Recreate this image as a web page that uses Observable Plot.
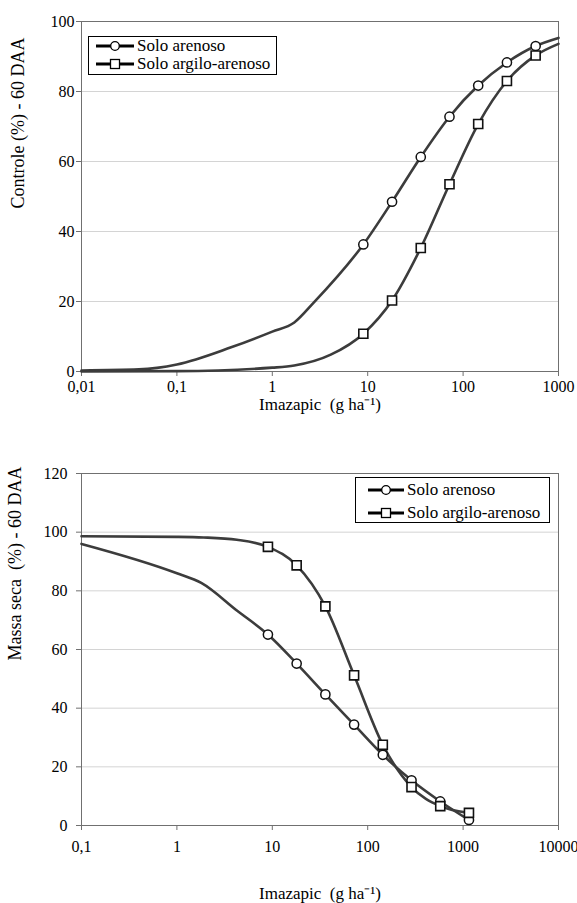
<!DOCTYPE html>
<html>
<head>
<meta charset="utf-8">
<script src="https://cdn.jsdelivr.net/npm/d3@7"></script>
<script src="https://cdn.jsdelivr.net/npm/@observablehq/plot@0.6"></script>
<style>
  html, body { margin: 0; padding: 0; background: #fff; }
  #wrap { position: relative; width: 577px; height: 903px; font-family: "Liberation Serif", "Times New Roman", serif; }
  #wrap svg { display: block; }
  .legend { position: absolute; background: #fff; border: 1px solid #000; box-sizing: border-box;
            font-family: "Liberation Serif", serif; font-size: 17px; color: #000; }
  .legend .row { position: absolute; left: 0; display: flex; align-items: center; white-space: nowrap; }
  .legend .row svg { display: block; }
</style>
</head>
<body>
<div id="wrap"></div>
<script>
// ---------- shared ----------
const seriesNames = ["Solo arenoso", "Solo argilo-arenoso"];
const doses = [9, 18, 36, 72, 144, 288, 576];
const dosesBottom = [9, 18, 36, 72, 144, 288, 576, 1152];

// ---------- top panel: Controle (%) ----------
const arenosoTop = [36.3, 48.5, 61.3, 72.8, 81.7, 88.3, 93.0];
const argiloTop  = [10.8, 20.3, 35.3, 53.5, 70.7, 83.0, 90.3];
// fitted curves
const curveArenosoTopX = [0.01, 0.04, 0.1, 0.37, 1, 1.7, 2.7, 9, 18, 36, 72, 144, 288, 576, 1000];
const curveArenosoTopY = [0.3, 0.6, 2.0, 6.9, 11.4, 14.0, 19.6, 36.3, 48.5, 61.3, 72.8, 81.7, 88.3, 93.0, 95.3];
const curveArgiloTopX  = [0.01, 0.1, 1, 1.7, 4.1, 9, 18, 36, 72, 144, 288, 576, 1000];
const curveArgiloTopY  = [0.0, 0.1, 1.1, 1.7, 4.8, 10.8, 20.3, 35.3, 53.5, 70.7, 83.0, 90.3, 93.6];
const xTicksTop  = [0.01, 0.1, 1, 10, 100, 1000];
const xLabelsTop = ["0,01", "0,1", "1", "10", "100", "1000"];
const yTicksTop  = [0, 20, 40, 60, 80, 100];
const yGridTop   = [20, 40, 60, 80];
const yTitleTop  = "Controle (%) - 60 DAA";

// ---------- bottom panel: Massa seca (%) ----------
const arenosoBottom = [65.1, 55.2, 44.7, 34.4, 24.1, 15.4, 8.2, 1.9];
const argiloBottom  = [95.0, 88.7, 74.7, 51.2, 27.5, 13.1, 6.6, 4.3];
const curveArenosoBotX = [0.1, 1, 1.8, 4.25, 9, 18, 36, 72, 144, 288, 576, 1152];
const curveArenosoBotY = [96.0, 86.0, 82.7, 73.3, 65.1, 55.2, 44.7, 34.4, 24.1, 15.4, 8.2, 1.9];
const curveArgiloBotX  = [0.1, 1, 1.9, 4.25, 9, 18, 36, 72, 144, 288, 576, 1152];
const curveArgiloBotY  = [98.6, 98.4, 98.2, 97.4, 95.0, 88.7, 74.7, 51.2, 27.5, 13.1, 6.6, 4.3];
const xTicksBottom  = [0.1, 1, 10, 100, 1000, 10000];
const xLabelsBottom = ["0,1", "1", "10", "100", "1000", "10000"];
const yTicksBottom  = [0, 20, 40, 60, 80, 100, 120];
const yGridBottom   = [20, 40, 60, 80, 100];
const yTitleBottom  = "Massa seca  (%) - 60 DAA";

const xTitle = "Imazapic  (g ha\u207B\u00B9)";

// ---------- helpers ----------
const zip = (xs, ys, s) => xs.map((x, i) => ({x, y: ys[i], s}));
const AXIS = "#707070";
const LINE = "#3c3c3c";

function panel(o) {
  const fmt = new Map(o.xTicks.map((v, i) => [v, o.xLabels[i]]));
  const curves = [...zip(o.cAx, o.cAy, seriesNames[0]), ...zip(o.cBx, o.cBy, seriesNames[1])];
  const ptsA = zip(o.doses, o.A, seriesNames[0]);
  const ptsB = zip(o.doses, o.B, seriesNames[1]);
  return Plot.plot({
    width: 577, height: o.height,
    marginTop: o.mt, marginBottom: o.mb, marginLeft: 81, marginRight: 19,
    style: {fontFamily: "Liberation Serif, serif", fontSize: "16px", color: "#000", background: "transparent"},
    x: {type: "log", domain: o.xDomain},
    y: {domain: o.yDomain},
    marks: [
      Plot.gridY(o.grid, {stroke: "#d4d4d4", strokeOpacity: 1}),
      Plot.frame({stroke: AXIS, strokeWidth: 1}),
      Plot.axisY(o.yTicks, {tickSize: 5, tickPadding: o.yPad, stroke: AXIS, label: null, tickFormat: d => String(d), fontSize: 16}),
      Plot.axisX(o.xTicks, {tickSize: 5, tickPadding: o.xPad, stroke: AXIS, label: null, tickFormat: d => fmt.get(d), fontSize: 16}),
      Plot.text([o.yTitle], {text: d => d, frameAnchor: "left", rotate: -90, dx: o.ytDx, dy: o.ytDy, fontSize: o.ytSize, fill: "#000"}),
      Plot.text([xTitle], {text: d => d, frameAnchor: "bottom", dy: o.xtDy, fontSize: 17, fill: "#000"}),
      Plot.line(curves, {x: "x", y: "y", z: "s", stroke: LINE, strokeWidth: 2.6, curve: "monotone-x"}),
      Plot.dot(ptsA, {x: "x", y: "y", r: 4.6, symbol: "circle", fill: "#fff", stroke: "#111", strokeWidth: 1.5}),
      Plot.dot(ptsB, {x: "x", y: "y", r: 5.1, symbol: "square", fill: "#fff", stroke: "#111", strokeWidth: 1.6})
    ]
  });
}

const wrap = document.getElementById("wrap");

const topPanel = panel({
  height: 420, mt: 21, mb: 49, xDomain: [0.01, 1000], yDomain: [0, 100],
  xTicks: xTicksTop, xLabels: xLabelsTop, yTicks: yTicksTop, grid: yGridTop,
  doses: doses, A: arenosoTop, B: argiloTop,
  cAx: curveArenosoTopX, cAy: curveArenosoTopY, cBx: curveArgiloTopX, cBy: curveArgiloTopY,
  yTitle: yTitleTop, ytDx: -63, ytDy: 12, ytSize: 18, xtDy: 38, yPad: 2, xPad: 4
});
const bottomPanel = panel({
  height: 483, mt: 53, mb: 78, xDomain: [0.1, 10000], yDomain: [0, 120],
  xTicks: xTicksBottom, xLabels: xLabelsBottom, yTicks: yTicksBottom, grid: yGridBottom,
  doses: dosesBottom, A: arenosoBottom, B: argiloBottom,
  cAx: curveArenosoBotX, cAy: curveArenosoBotY, cBx: curveArgiloBotX, cBy: curveArgiloBotY,
  yTitle: yTitleBottom, ytDx: -66, ytDy: 11, ytSize: 18, xtDy: 73, yPad: 9, xPad: 10
});
wrap.appendChild(topPanel);
wrap.appendChild(bottomPanel);

// ---------- legends ----------
function swatch(sym, w) {
  const ns = "http://www.w3.org/2000/svg";
  const s = document.createElementNS(ns, "svg");
  s.setAttribute("width", w); s.setAttribute("height", 14);
  const l = document.createElementNS(ns, "line");
  l.setAttribute("x1", 0); l.setAttribute("x2", w); l.setAttribute("y1", 7); l.setAttribute("y2", 7);
  l.setAttribute("stroke", "#000"); l.setAttribute("stroke-width", 3);
  s.appendChild(l);
  let m;
  if (sym === "circle") {
    m = document.createElementNS(ns, "circle");
    m.setAttribute("cx", w / 2); m.setAttribute("cy", 7); m.setAttribute("r", 4.3);
  } else {
    m = document.createElementNS(ns, "rect");
    m.setAttribute("x", w / 2 - 4.5); m.setAttribute("y", 2.5); m.setAttribute("width", 9); m.setAttribute("height", 9);
  }
  m.setAttribute("fill", "#fff"); m.setAttribute("stroke", "#000"); m.setAttribute("stroke-width", 1.3);
  s.appendChild(m);
  return s;
}
function legend(box, rows) {
  const d = document.createElement("div");
  d.className = "legend";
  Object.assign(d.style, {left: box.x + "px", top: box.y + "px", width: box.w + "px", height: box.h + "px"});
  seriesNames.forEach((name, i) => {
    const r = document.createElement("div");
    r.className = "row";
    r.style.top = (rows.y[i] - box.y - 10) + "px";
    r.style.height = "20px";
    r.style.left = (rows.sx - box.x) + "px";
    const sw = swatch(i === 0 ? "circle" : "square", rows.sw);
    r.appendChild(sw);
    const t = document.createElement("span");
    t.textContent = name;
    t.style.marginLeft = rows.gap + "px";
    r.appendChild(t);
    d.appendChild(r);
  });
  wrap.appendChild(d);
}
legend({x: 88, y: 36, w: 189, h: 39}, {y: [45, 63], sx: 95, sw: 38, gap: 3});
legend({x: 355, y: 477, w: 195, h: 46}, {y: [489, 512], sx: 367, sw: 36, gap: 3});
</script>
</body>
</html>
